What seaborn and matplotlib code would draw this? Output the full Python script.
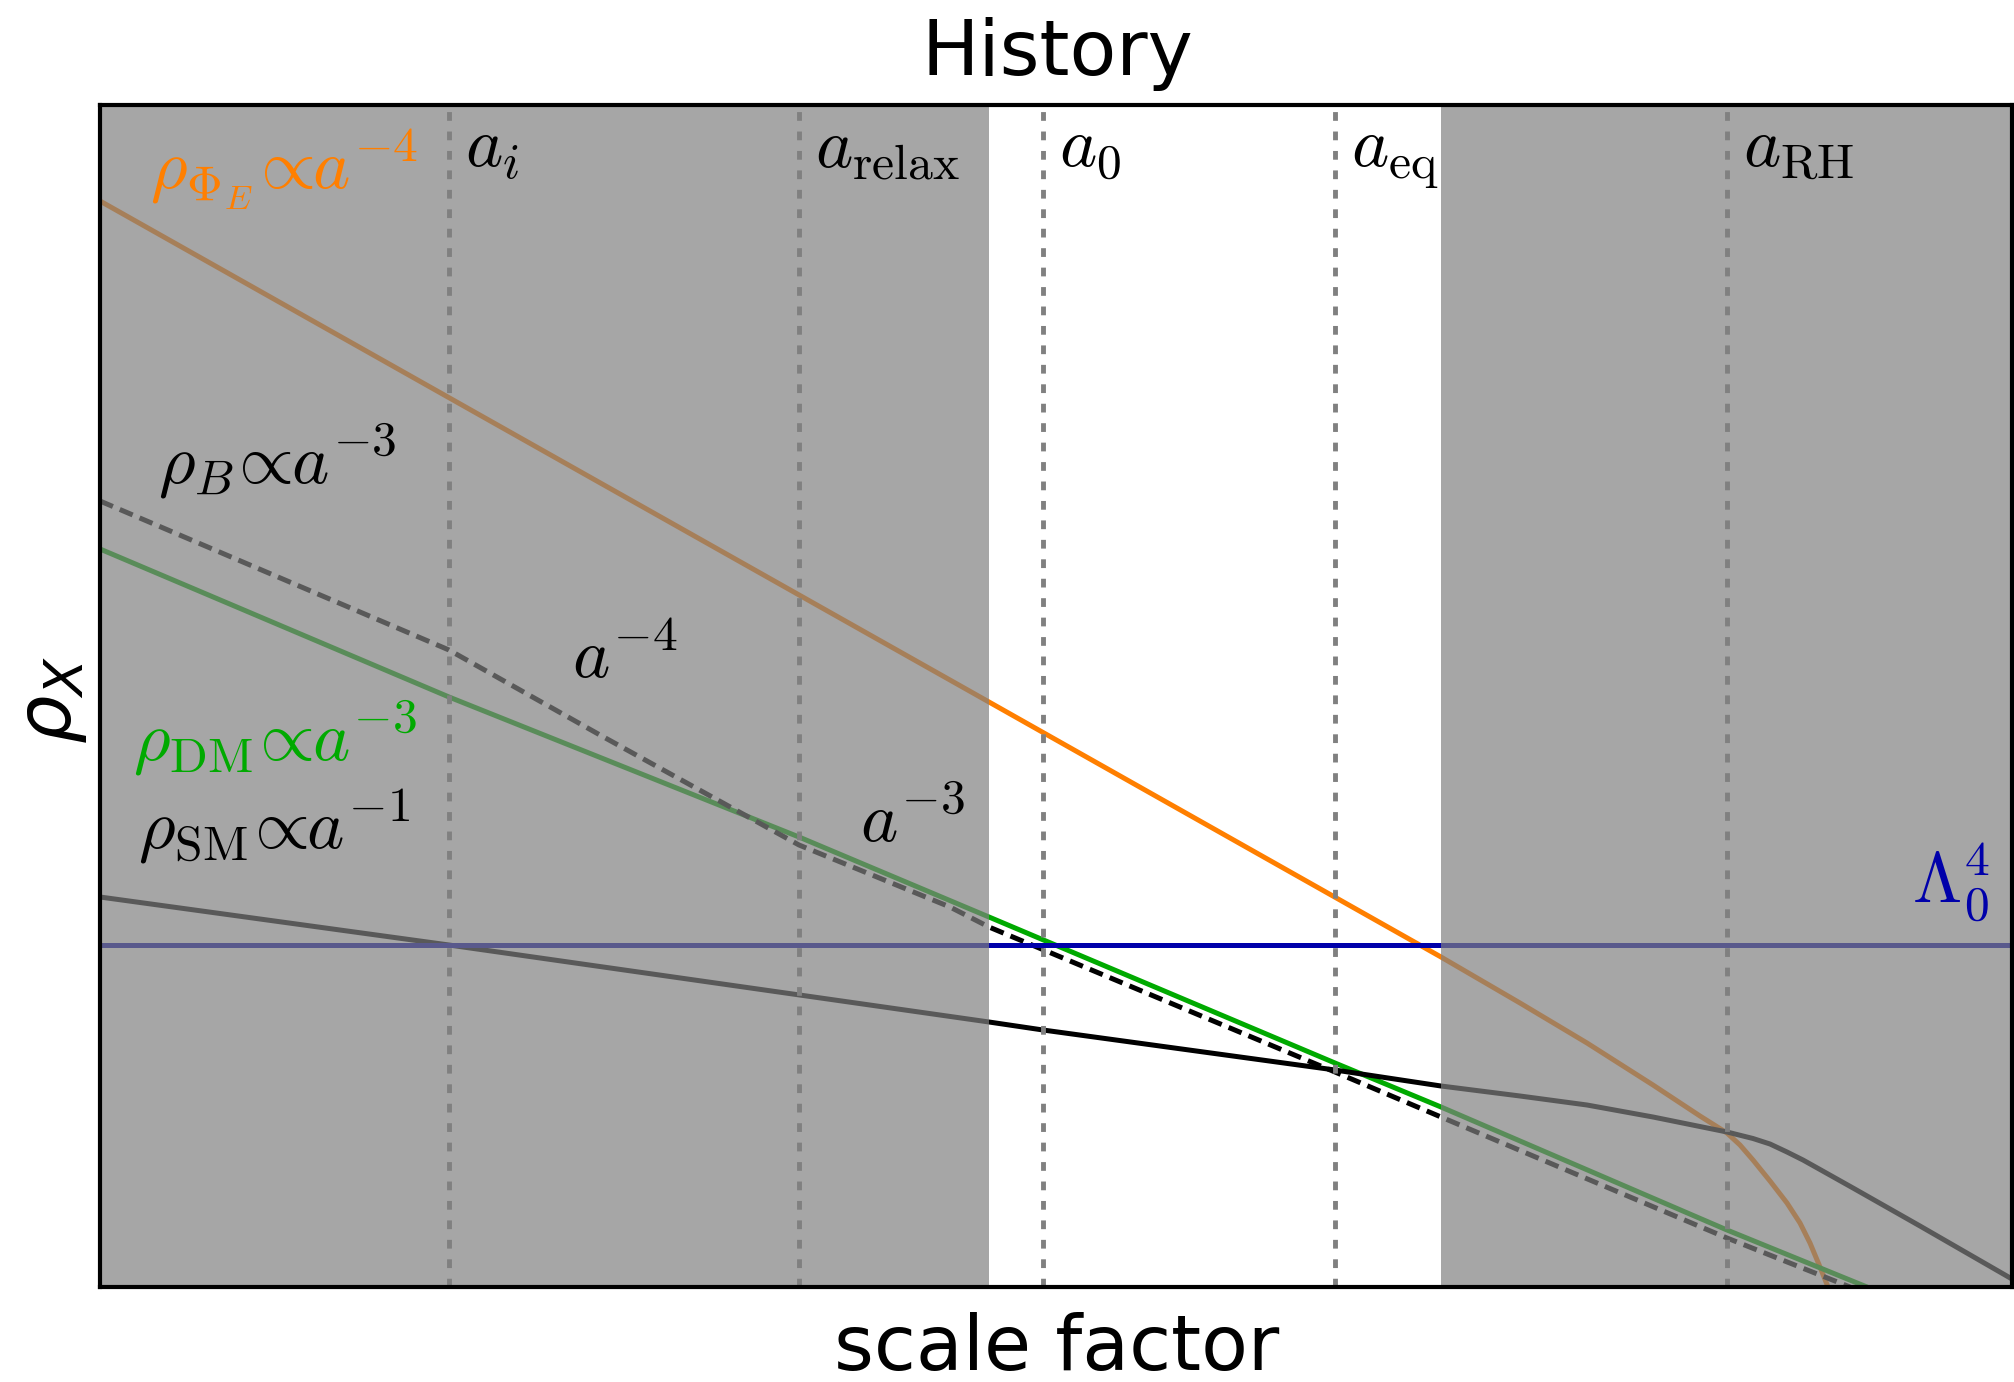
import numpy as np
import pandas as pd
import matplotlib
matplotlib.use("Agg")
import matplotlib.pyplot as plt
import seaborn as sns

# ---- data (x = log scale factor, y = log density; schematic units) ----
x_phi = [0.0, 8.89, 13.41, 14.20, 14.87, 15.53, 16.00, 16.27, 16.40, 16.53, 16.70,
         16.87, 17.00, 17.10, 17.20, 17.28]
y_phi = [10.86, 5.85, 3.30, 2.84, 2.44, 2.02, 1.71, 1.54, 1.42, 1.27, 1.06,
         0.84, 0.64, 0.44, 0.20, 0.0]

x_dm = [0.0, 3.49, 6.99, 8.89, 12.35, 13.41, 16.27, 17.67]
y_dm = [7.38, 5.90, 4.50, 3.70, 2.24, 1.80, 0.57, 0.0]

x_b = [0.0, 3.49, 5.00, 6.99, 8.50, 8.89, 12.35, 13.41, 16.27, 17.50]
y_b = [7.86, 6.37, 5.52, 4.42, 3.80, 3.60, 2.15, 1.70, 0.49, 0.0]

x_sm = [0.0, 3.49, 8.89, 9.43, 12.35, 13.41, 14.20, 14.87, 15.53, 16.27, 16.53, 16.70,
        16.87, 17.03, 17.20, 17.53, 18.20, 19.12]
y_sm = [3.90, 3.42, 2.65, 2.57, 2.17, 2.01, 1.91, 1.82, 1.70, 1.55, 1.485, 1.43,
        1.35, 1.27, 1.175, 0.99, 0.61, 0.08]

lambda_level = 3.42

epoch_names = [r'$a_i$', r'$a_{\rm relax}$', r'$a_0$', r'$a_{\rm eq}$', r'$a_{\rm RH}$']
epoch_x = [3.49, 6.99, 9.43, 12.35, 16.27]

shaded = [(0.0, 8.89), (13.41, 19.12)]

XMAX, YMAX = 19.12, 11.82

# ---- figure ----
sns.set_theme(style="white")
plt.rcParams['font.family'] = ['DejaVu Sans']
plt.rcParams['mathtext.fontset'] = 'cm'
plt.rcParams['text.color'] = 'black'

W, H = 2014, 1382
fig = plt.figure(figsize=(W / 100, H / 100), dpi=100)
ax = fig.add_axes([100 / W, (H - 1287) / H, 1912 / W, 1182 / H])

ORANGE = '#ff7f00'
GREEN = '#00aa00'
BLUE = '#0000aa'
LW = 3.6
FS = 51

sns.lineplot(x=x_phi, y=y_phi, ax=ax, color=ORANGE, lw=LW, sort=False, estimator=None, zorder=2)
sns.lineplot(x=x_dm, y=y_dm, ax=ax, color=GREEN, lw=LW, sort=False, estimator=None, zorder=2)
sns.lineplot(x=x_b, y=y_b, ax=ax, color='black', lw=LW, sort=False, estimator=None,
             linestyle=(0, (2.8, 1.5)), zorder=2)
sns.lineplot(x=x_sm, y=y_sm, ax=ax, color='black', lw=LW, sort=False, estimator=None, zorder=2)
ax.axhline(lambda_level, color=BLUE, lw=LW, zorder=2)

for (x0, x1) in shaded:
    ax.axvspan(x0, x1, color=(0.5, 0.5, 0.5), alpha=0.7, lw=0, zorder=3)

for name, xv in zip(epoch_names, epoch_x):
    ax.axvline(xv, color='#808080', lw=3.5, linestyle=(0, (1.8, 2.2)), zorder=4)
    ax.text(xv + 0.16, 11.20, name, fontsize=FS, color='black', ha='left',
            va='baseline', zorder=5)

PROP = r'\!\propto\hspace{-0.24}'
ax.text(0.50, 10.97, r'$\rho_{\Phi_E}' + PROP + r'a^{-4}$', fontsize=FS, color=ORANGE,
        va='baseline', zorder=5)
ax.text(0.58, 8.04, r'$\rho_{B}' + PROP + r'a^{-3}$', fontsize=FS, color='black',
        va='baseline', zorder=5)
ax.text(0.33, 5.27, r'$\rho_{\rm DM}' + PROP + r'a^{-3}$', fontsize=FS, color=GREEN,
        va='baseline', zorder=5)
ax.text(0.38, 4.39, r'$\rho_{\rm SM}' + PROP + r'a^{-1}$', fontsize=FS, color='black',
        va='baseline', zorder=5)
ax.text(4.72, 6.09, r'$a^{-4}$', fontsize=FS, color='black', va='baseline', zorder=5)
ax.text(7.60, 4.45, r'$a^{-3}$', fontsize=FS, color='black', va='baseline', zorder=5)
ax.text(18.90, 3.84, r'$\Lambda_0^4$', fontsize=FS, color=BLUE, ha='right',
        va='baseline', zorder=5)

ax.set_xlim(0, XMAX)
ax.set_ylim(0, YMAX)
ax.set_xticks([])
ax.set_yticks([])
ax.set_xlabel('')
ax.set_ylabel('')
for sp in ax.spines.values():
    sp.set_color('black')
    sp.set_linewidth(3.0)
    sp.set_zorder(6)

fig.text(1057 / W, 1 - 75 / H, 'History', fontsize=55, ha='center', va='baseline',
         color='black')
fig.text(1057 / W, 1 - 1370 / H, 'scale factor', fontsize=55, ha='center', va='baseline',
         color='black')
fig.text(52 / W, 1 - 700 / H, r'$\rho_X$', fontsize=55, rotation=90, ha='center',
         va='center', math_fontfamily='dejavusans', color='black')

fig.savefig('out.png', dpi=100, facecolor='white')
